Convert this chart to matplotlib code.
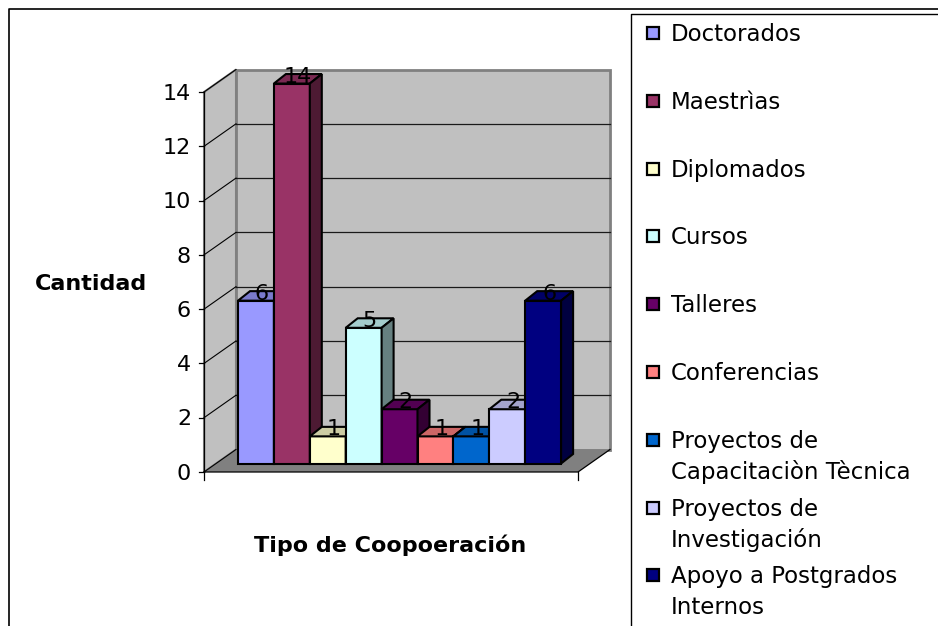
# -*- coding: utf-8 -*-
# Tipo de cooperacion - grafico de barras estilo 3D

import matplotlib
matplotlib.use('Agg')
import matplotlib.pyplot as plt
from matplotlib.patches import Rectangle

# datos
categorias = ['Doctorados', 'Maestrìas', 'Diplomados', 'Cursos', 'Talleres',
              'Conferencias', 'Proyectos de\nCapacitaciòn Tècnica',
              'Proyectos de\nInvestigación', 'Apoyo a Postgrados\nInternos']
valores = [6, 14, 1, 5, 2, 1, 1, 2, 6]
colores = ['#9999FF', '#993366', '#FFFFCC', '#CCFFFF', '#660066',
           '#FF8080', '#0066CC', '#CCCCFF', '#000080']
y_ticks = [0, 2, 4, 6, 8, 10, 12, 14]
titulo_y = 'Cantidad'
titulo_x = 'Tipo de Coopoeración'


def shade(c, f):
    r, g, b = matplotlib.colors.to_rgb(c)
    return (r * f, g * f, b * f)


W_PX, H_PX = 938, 626
fig = plt.figure(figsize=(W_PX / 100, H_PX / 100), dpi=100)

# capa de fondo en pixeles (marcos, textos, leyenda)
bg = fig.add_axes([0, 0, 1, 1])
bg.set_xlim(0, W_PX)
bg.set_ylim(H_PX, 0)
bg.set_axis_off()

# escalas del grafico: x en anchos de barra, y en unidades de valor
px_x = 35.9
px_y = 27.14
x0_px, y0_px = 204, 472            # origen del eje frontal
box = (150, 60, 628, 500)          # region del eje en pixeles (izq, arriba, der, abajo)
ax = fig.add_axes([box[0] / W_PX, (H_PX - box[3]) / H_PX,
                   (box[2] - box[0]) / W_PX, (box[3] - box[1]) / H_PX])
ax.set_axis_off()

ymax = y_ticks[-1]
dxw, dyw = 32 / px_x, 22.5 / px_y       # profundidad de las paredes
ancho_piso = 374 / px_x
dxb, dyb = 12 / px_x, 9.5 / px_y        # profundidad de las barras
bar_x0 = (238 - x0_px) / px_x
base = 8.5 / px_y

# pared lateral
ax.fill([0, dxw, dxw, 0], [0, dyw, ymax + dyw, ymax],
        facecolor='#C0C0C0', edgecolor='#808080', linewidth=1.5, zorder=1)
# pared del fondo
ax.fill([dxw, dxw + ancho_piso, dxw + ancho_piso, dxw],
        [dyw, dyw, ymax + dyw, ymax + dyw],
        facecolor='#C0C0C0', edgecolor='#808080', linewidth=2, zorder=1)
# piso
ax.fill([0, ancho_piso, ancho_piso + dxw, dxw], [0, 0, dyw, dyw],
        facecolor='#808080', edgecolor='none', zorder=1.5)
ax.plot([0, ancho_piso, ancho_piso + dxw], [0, 0, dyw], color='black', lw=0.9, zorder=1.6)

# lineas de division
for v in y_ticks:
    if 0 < v < ymax:
        ax.plot([dxw, dxw + ancho_piso], [v + dyw, v + dyw], color='#1a1a1a', lw=0.9, zorder=1.2)
    ax.plot([0, dxw], [v, v + dyw], color='black', lw=0.8, zorder=1.7)
    ax.plot([-0.14, 0], [v, v], color='black', lw=0.9, zorder=1.7)
    ax.text(-0.36, v - 7.7 / px_y, str(v), ha='right', va='baseline',
            fontsize=16, color='black')
ax.plot([0, 0], [0, ymax], color='black', lw=0.9, zorder=1.7)
for xt in [0, ancho_piso]:
    ax.plot([xt, xt], [0, -8 / px_y], color='black', lw=0.9, zorder=1.7)

# barras
for i, (v, c) in enumerate(zip(valores, colores)):
    izq = bar_x0 + i
    top = base + v
    z = 3 + i
    ax.bar(izq, v, width=1, bottom=base, align='edge', color=c,
           edgecolor='black', linewidth=1.5, zorder=z)
    ax.fill([izq, izq + 1, izq + 1 + dxb, izq + dxb], [top, top, top + dyb, top + dyb],
            facecolor=shade(c, 0.8), edgecolor='black', linewidth=1.5, zorder=z)
    ax.fill([izq + 1, izq + 1 + dxb, izq + 1 + dxb, izq + 1],
            [base, base + dyb, top + dyb, top],
            facecolor=shade(c, 0.5), edgecolor='black', linewidth=1.5, zorder=z)
for i, v in enumerate(valores):
    ax.text(bar_x0 + i + 0.5 + dxb / 2, base + v + 1 / px_y, str(v),
            ha='center', va='baseline', fontsize=16, color='black', zorder=20)

ax.set_xlim((box[0] - x0_px) / px_x, (box[2] - x0_px) / px_x)
ax.set_ylim((y0_px - box[3]) / px_y, (y0_px - box[1]) / px_y)

# titulos de ejes
bg.text(91.5, 290, titulo_y, ha='center', va='baseline', fontsize=16, fontweight='bold')
bg.text(390, 552, titulo_x, ha='center', va='baseline', fontsize=16, fontweight='bold')

# marcos
bg.plot([9, 9, W_PX], [H_PX, 9, 9], color='black', lw=1.2)
bg.plot([631, 631, W_PX], [H_PX, 14, 14], color='black', lw=1.0)

# leyenda
paso = 67.8
for i, (lab, c) in enumerate(zip(categorias, colores)):
    yc = 33 + paso * i
    bg.add_patch(Rectangle((647, yc - 6), 12, 12, facecolor=c, edgecolor='black', lw=1.6))
    for k, linea in enumerate(lab.split('\n')):
        bg.text(671, yc + 8 + 31 * k, linea, ha='left', va='baseline', fontsize=16.5)

fig.savefig('out.png', dpi=100)
